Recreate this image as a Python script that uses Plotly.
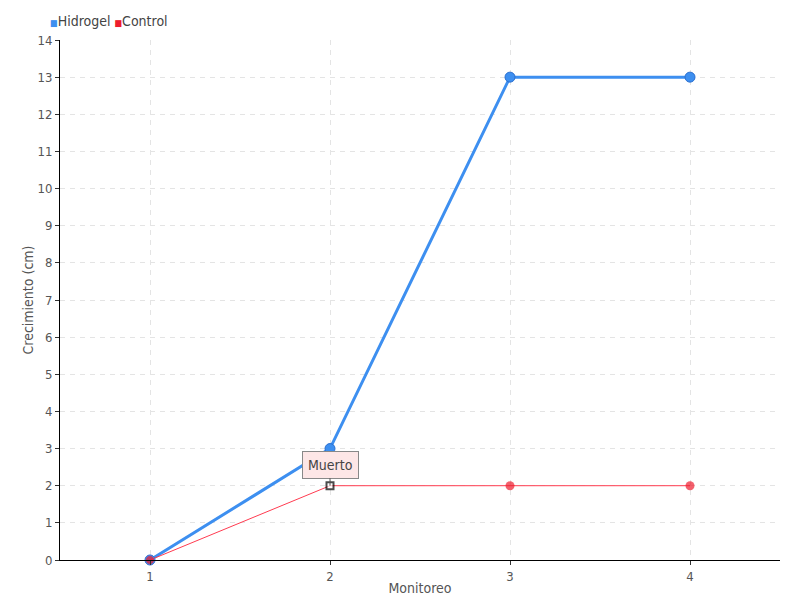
import plotly.graph_objects as go

monitoreo = [1, 2, 3, 4]
hidrogel = [0, 3, 13, 13]
control = [0, 2, 2, 2]
y_ticks = list(range(0, 15))

FONT = "DejaVu Sans Condensed, DejaVu Sans"
BLUE = "#3d8ff0"
RED = "#ee1c2e"

fig = go.Figure()
fig.add_trace(go.Scatter(
    x=monitoreo, y=hidrogel, mode="lines+markers", name="Hidrogel",
    line=dict(color=BLUE, width=3),
    marker=dict(size=10, color=BLUE, line=dict(color="#2a6fd0", width=1)),
    showlegend=False, cliponaxis=False))
fig.add_trace(go.Scatter(
    x=monitoreo, y=control, mode="lines+markers", name="Control",
    line=dict(color="#ff3b50", width=1),
    marker=dict(size=[9, 7, 9, 9], color=[RED, "white", RED, RED],
                symbol=["circle", "square", "circle", "circle"],
                line=dict(color=["#5080e0", "black", RED, RED], width=[1, 2, 0, 0])),
    showlegend=False, cliponaxis=False))

# legend drawn as text
fig.add_annotation(xref="paper", yref="paper", x=-0.016, y=1.0365, xanchor="left", yanchor="middle",
                   showarrow=False,
                   text=(f'<span style="color:{BLUE};font-size:9px">■</span>Hidrogel '
                         f'<span style="color:{RED};font-size:9px">■</span>Control'),
                   font=dict(family=FONT, size=14, color="#444"))

fig.add_annotation(x=2, y=2, text="Muerto", showarrow=True, arrowhead=0, arrowwidth=1,
                   arrowcolor="#555", ax=0, ay=-21, bgcolor="#fde6e6", bordercolor="#888",
                   borderwidth=1, borderpad=5, font=dict(family=FONT, size=14, color="#444"))

fig.update_layout(
    width=792, height=592, plot_bgcolor="white", paper_bgcolor="white",
    margin=dict(l=52, r=20, t=32, b=40),
    font=dict(family=FONT, size=13, color="#555"),
    showlegend=False,
    xaxis=dict(range=[0.5, 4.5], tickvals=monitoreo, ticktext=[str(v) for v in monitoreo],
               showline=True, linecolor="black", linewidth=1, ticks="outside", ticklen=4,
               tickcolor="#333", showgrid=True, gridcolor="#e4e4e4", griddash="5px,5px",
               zeroline=False, title=dict(text="Monitoreo", standoff=0, font=dict(size=14)),
               automargin=False, fixedrange=True),
    yaxis=dict(range=[0, 14], tickvals=y_ticks, showline=True, linecolor="black", linewidth=1,
               ticks="outside", ticklen=4, tickcolor="#333", showgrid=True, gridcolor="#e4e4e4",
               griddash="5px,5px", zeroline=False,
               title=dict(text="Crecimiento (cm)", standoff=0, font=dict(size=14)),
               automargin=False, fixedrange=True),
)

fig.write_html("out.html")
